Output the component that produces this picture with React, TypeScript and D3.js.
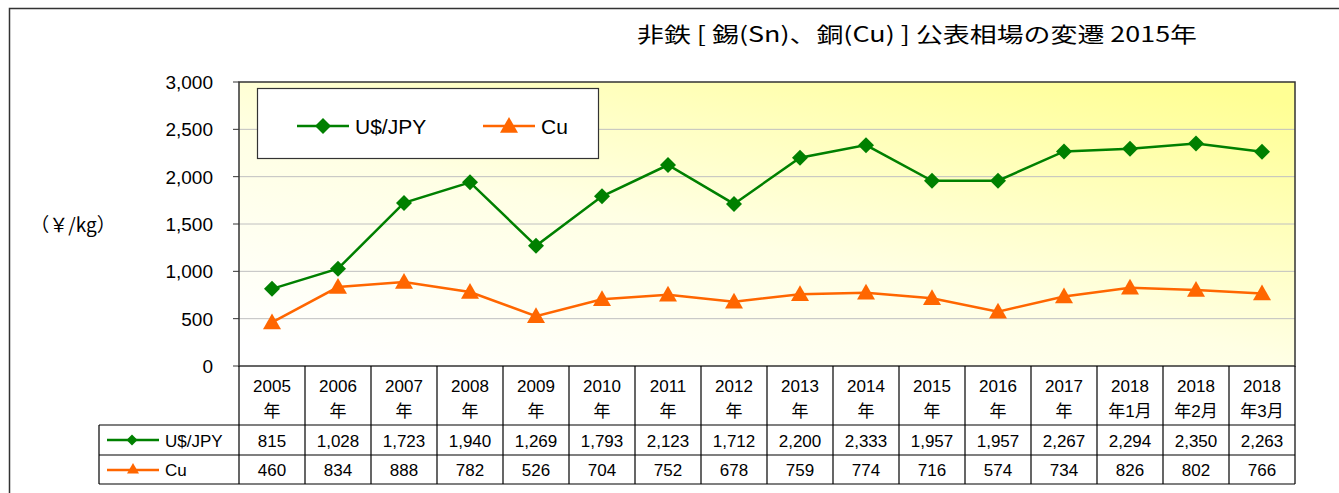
import React from "react";
import * as d3 from "d3";

const categories: string[][] = [
  ["2005", "年"], ["2006", "年"], ["2007", "年"], ["2008", "年"], ["2009", "年"],
  ["2010", "年"], ["2011", "年"], ["2012", "年"], ["2013", "年"], ["2014", "年"],
  ["2015", "年"], ["2016", "年"], ["2017", "年"], ["2018", "年1月"], ["2018", "年2月"], ["2018", "年3月"],
];
const usdJpy = [815, 1028, 1723, 1940, 1269, 1793, 2123, 1712, 2200, 2333, 1957, 1957, 2267, 2294, 2350, 2263];
const cu = [460, 834, 888, 782, 526, 704, 752, 678, 759, 774, 716, 574, 734, 826, 802, 766];
const yTicks = [0, 500, 1000, 1500, 2000, 2500, 3000];
const title = "非鉄 [ 錫(Sn)、銅(Cu) ] 公表相場の変遷 2015年";
const yLabel = "（￥/kg）";

const GREEN = "#008000";
const ORANGE = "#FF6600";
const FONT = "'Liberation Sans', Arial, 'Noto Sans CJK JP', sans-serif";
const CJK = "'Noto Sans CJK JP', sans-serif";

const L = 239, R = 1295, T = 82, B = 366;

function Diamond({ x, y, r = 8 }: { x: number; y: number; r?: number }) {
  return <path d={`M${x},${y - r}L${x + r},${y}L${x},${y + r}L${x - r},${y}Z`} fill={GREEN} />;
}
function Tri({ x, y, s = 9 }: { x: number; y: number; s?: number }) {
  return <path d={`M${x},${y - s}L${x + s},${y + s * 0.75}L${x - s},${y + s * 0.75}Z`} fill={ORANGE} />;
}

export default function App() {
  const x = d3.scaleBand<number>().domain(d3.range(categories.length)).range([L, R]);
  const y = d3.scaleLinear().domain([0, 3000]).range([B, T]);
  const cx = (i: number) => (x(i) as number) + x.bandwidth() / 2;
  const line = d3.line<number>().x((_, i) => cx(i)).y((d) => y(d));
  const fmt = d3.format(",");
  const rowH = [B, 425, 455, 484];

  return (
    <svg width={1339} height={493} style={{ position: "absolute", left: 0, top: 0, background: "#fff" }} fontFamily={FONT}>
      <defs>
        <linearGradient id="bg" x1="0.1" y1="1" x2="0.9" y2="0">
          <stop offset="0" stopColor="#FFFFFF" />
          <stop offset="0.45" stopColor="#FFFFE4" />
          <stop offset="1" stopColor="#FFFF94" />
        </linearGradient>
      </defs>
      <rect x={0} y={0} width={1339} height={493} fill="#fff" />
      <path d="M9.5,493V8.5H1339" fill="none" stroke="#333" strokeWidth={1.5} />
      <text x={917} y={42} textAnchor="middle" fontSize={21} fontFamily={CJK} textLength={560} lengthAdjust="spacingAndGlyphs" fill="#000">{title}</text>
      <text x={73} y={232} textAnchor="middle" fontSize={19} fontFamily={CJK} fill="#000">{yLabel}</text>

      <rect x={L} y={T} width={R - L} height={B - T} fill="url(#bg)" />
      {yTicks.filter((t) => t > 0 && t < 3000).map((t) => (
        <line key={t} x1={L} x2={R} y1={y(t)} y2={y(t)} stroke="#C0C0C0" strokeWidth={1} />
      ))}
      <rect x={L} y={T} width={R - L} height={B - T} fill="none" stroke="#333" strokeWidth={1.5} />
      {yTicks.map((t) => (
        <g key={t}>
          <line x1={L - 6} x2={L} y1={y(t)} y2={y(t)} stroke="#333" />
          <text x={213} y={y(t) + 7} textAnchor="end" fontSize={19} fill="#000">{fmt(t)}</text>
        </g>
      ))}

      <path d={line(usdJpy) || ""} fill="none" stroke={GREEN} strokeWidth={2.5} />
      <path d={line(cu) || ""} fill="none" stroke={ORANGE} strokeWidth={2.5} />
      {usdJpy.map((v, i) => <Diamond key={"g" + i} x={cx(i)} y={y(v)} />)}
      {cu.map((v, i) => <Tri key={"o" + i} x={cx(i)} y={y(v)} />)}

      <rect x={257.5} y={88.5} width={341} height={70} fill="#fff" stroke="#333" strokeWidth={1.2} />
      <line x1={297} x2={349} y1={126} y2={126} stroke={GREEN} strokeWidth={2.5} />
      <Diamond x={323} y={126} />
      <text x={355} y={134} fontSize={21} fill="#000">U$/JPY</text>
      <line x1={483} x2={535} y1={126} y2={126} stroke={ORANGE} strokeWidth={2.5} />
      <Tri x={509} y={126} />
      <text x={541} y={134} fontSize={21} fill="#000">Cu</text>

      {/* data table */}
      <g stroke="#000" strokeWidth={1.2} fill="none">
        <line x1={99} x2={R} y1={rowH[1]} y2={rowH[1]} />
        <line x1={99} x2={R} y1={rowH[2]} y2={rowH[2]} />
        <line x1={99} x2={R} y1={rowH[3]} y2={rowH[3]} />
        <line x1={99} x2={99} y1={rowH[1]} y2={rowH[3]} />
        <line x1={L} x2={L} y1={B} y2={rowH[3]} />
        {categories.map((_, i) => (
          <line key={i} x1={(x(i) as number) + x.bandwidth()} x2={(x(i) as number) + x.bandwidth()} y1={B} y2={rowH[3]} />
        ))}
      </g>
      {categories.map((c, i) => (
        <g key={"c" + i}>
          <text x={cx(i)} y={392} textAnchor="middle" fontSize={17} fill="#000">{c[0]}</text>
          <text x={cx(i)} y={417} textAnchor="middle" fontSize={17} fill="#000">{c[1]}</text>
          <text x={cx(i)} y={447} textAnchor="middle" fontSize={17} fill="#000">{fmt(usdJpy[i])}</text>
          <text x={cx(i)} y={476} textAnchor="middle" fontSize={17} fill="#000">{fmt(cu[i])}</text>
        </g>
      ))}
      <line x1={107} x2={159} y1={440} y2={440} stroke={GREEN} strokeWidth={2.5} />
      <Diamond x={132} y={440} r={5.5} />
      <text x={165} y={447} fontSize={17} fill="#000">U$/JPY</text>
      <line x1={107} x2={159} y1={470} y2={470} stroke={ORANGE} strokeWidth={2.5} />
      <Tri x={133} y={469} s={6} />
      <text x={165} y={476} fontSize={17} fill="#000">Cu</text>
    </svg>
  );
}
